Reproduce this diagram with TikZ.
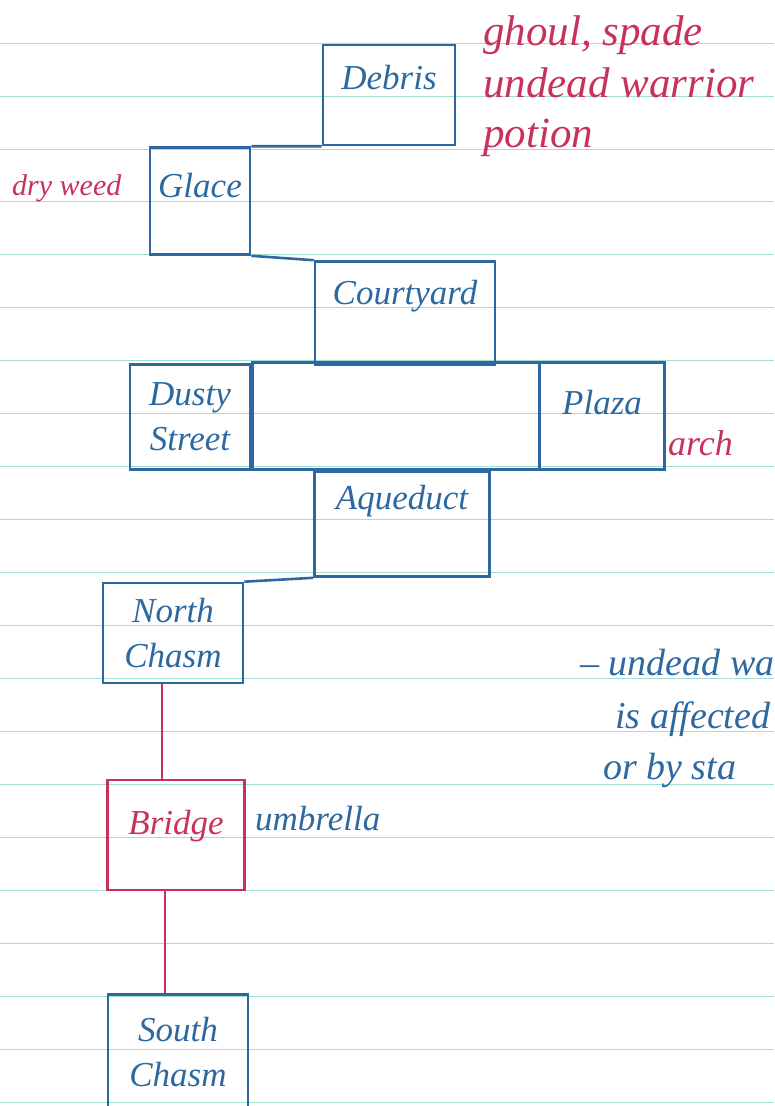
\documentclass[tikz,border=0pt]{standalone}
\usepackage{fontspec}
\setmainfont{Liberation Serif}
\definecolor{ink}{HTML}{2D69A0}
\definecolor{redink}{HTML}{C8325A}
\definecolor{paperrule}{HTML}{A2DED6}
\begin{document}
\begin{tikzpicture}[x=1pt,y=-1pt,
  box/.style={draw=ink, line width=2.6pt, inner sep=0pt, text=ink, align=center,
    font=\fontsize{35}{45}\selectfont\itshape},
  rbox/.style={box, draw=redink, text=redink, line width=2.3pt},
  link/.style={draw=ink, line width=2.6pt},
  rlink/.style={draw=redink, line width=2.2pt},
  rnote/.style={text=redink, inner sep=0pt, anchor=base west},
  bnote/.style={text=ink, inner sep=0pt, anchor=base west}]
\useasboundingbox (0,0) rectangle (774,1106);
\clip (0,0) rectangle (774,1106);
\fill[white] (0,0) rectangle (774,1106);
\foreach \k in {0,...,20} \draw[paperrule, line width=0.8pt] (0,{43+52.95*\k}) -- (774,{43+52.95*\k});

% rooms
\node[box, minimum width=132pt, minimum height=100pt, text height=22pt, text depth=34pt] (debris) at (389,95) {Debris};
\node[box, minimum width=100pt, minimum height=107pt, text height=22pt, text depth=30pt] (glace) at (200,201) {Glace};
\node[box, minimum width=180pt, minimum height=103pt, text height=22pt, text depth=40pt] (courtyard) at (405,313) {Courtyard};
\node[box, minimum width=287pt, minimum height=107pt] (hub) at (396,416) {};
\node[box, minimum width=120pt, minimum height=105pt] (dusty) at (190,417) {Dusty\\Street};
\node[box, minimum width=125pt, minimum height=107pt, text height=22pt, text depth=26pt] (plaza) at (602,416) {Plaza};
\node[box, minimum width=175pt, minimum height=105pt, text height=22pt, text depth=52pt] (aqueduct) at (402,524) {Aqueduct};
\node[box, minimum width=140pt, minimum height=100pt] (northchasm) at (173,633) {North\\Chasm};
\node[rbox, minimum width=137pt, minimum height=110pt, text height=22pt, text depth=24pt] (bridge) at (176,835) {Bridge};
\node[box, minimum width=140pt, minimum height=115pt] (southchasm) at (178,1052) {South\\Chasm};

% connectors
\draw[link] (debris.south west) -- (glace.north east);
\draw[link] (glace.south east) -- (courtyard.north west);
\draw[link] (aqueduct.south west) -- (northchasm.north east);
\draw[rlink] ([xshift=-11pt]northchasm.south) -- ([xshift=-11pt]northchasm.south |- bridge.north);
\draw[rlink] ([xshift=-11pt]bridge.south) -- ([xshift=-11pt]bridge.south |- southchasm.north);

% notes
\node[rnote, font=\fontsize{43}{50}\selectfont\itshape] (loot1) at (483,45) {ghoul, spade};
\node[rnote, font=\fontsize{43}{50}\selectfont\itshape] (loot2) at (483,97) {undead warrior};
\node[rnote, font=\fontsize{43}{50}\selectfont\itshape] (loot3) at (483,147) {potion};
\node[rnote, font=\fontsize{30}{36}\selectfont\itshape] (dryweed) at (12,195) {dry weed};
\node[rnote, font=\fontsize{36}{40}\selectfont\itshape] (arch) at (668,455) {arch};
\node[bnote, font=\fontsize{35}{40}\selectfont\itshape] (umbrella) at (255,830) {umbrella};
\node[bnote, font=\fontsize{38}{44}\selectfont\itshape] (memo1) at (580,675) {– undead wa};
\node[bnote, font=\fontsize{38}{44}\selectfont\itshape] (memo2) at (615,728) {is affected};
\node[bnote, font=\fontsize{38}{44}\selectfont\itshape] (memo3) at (603,779) {or by sta};
\end{tikzpicture}
\end{document}
